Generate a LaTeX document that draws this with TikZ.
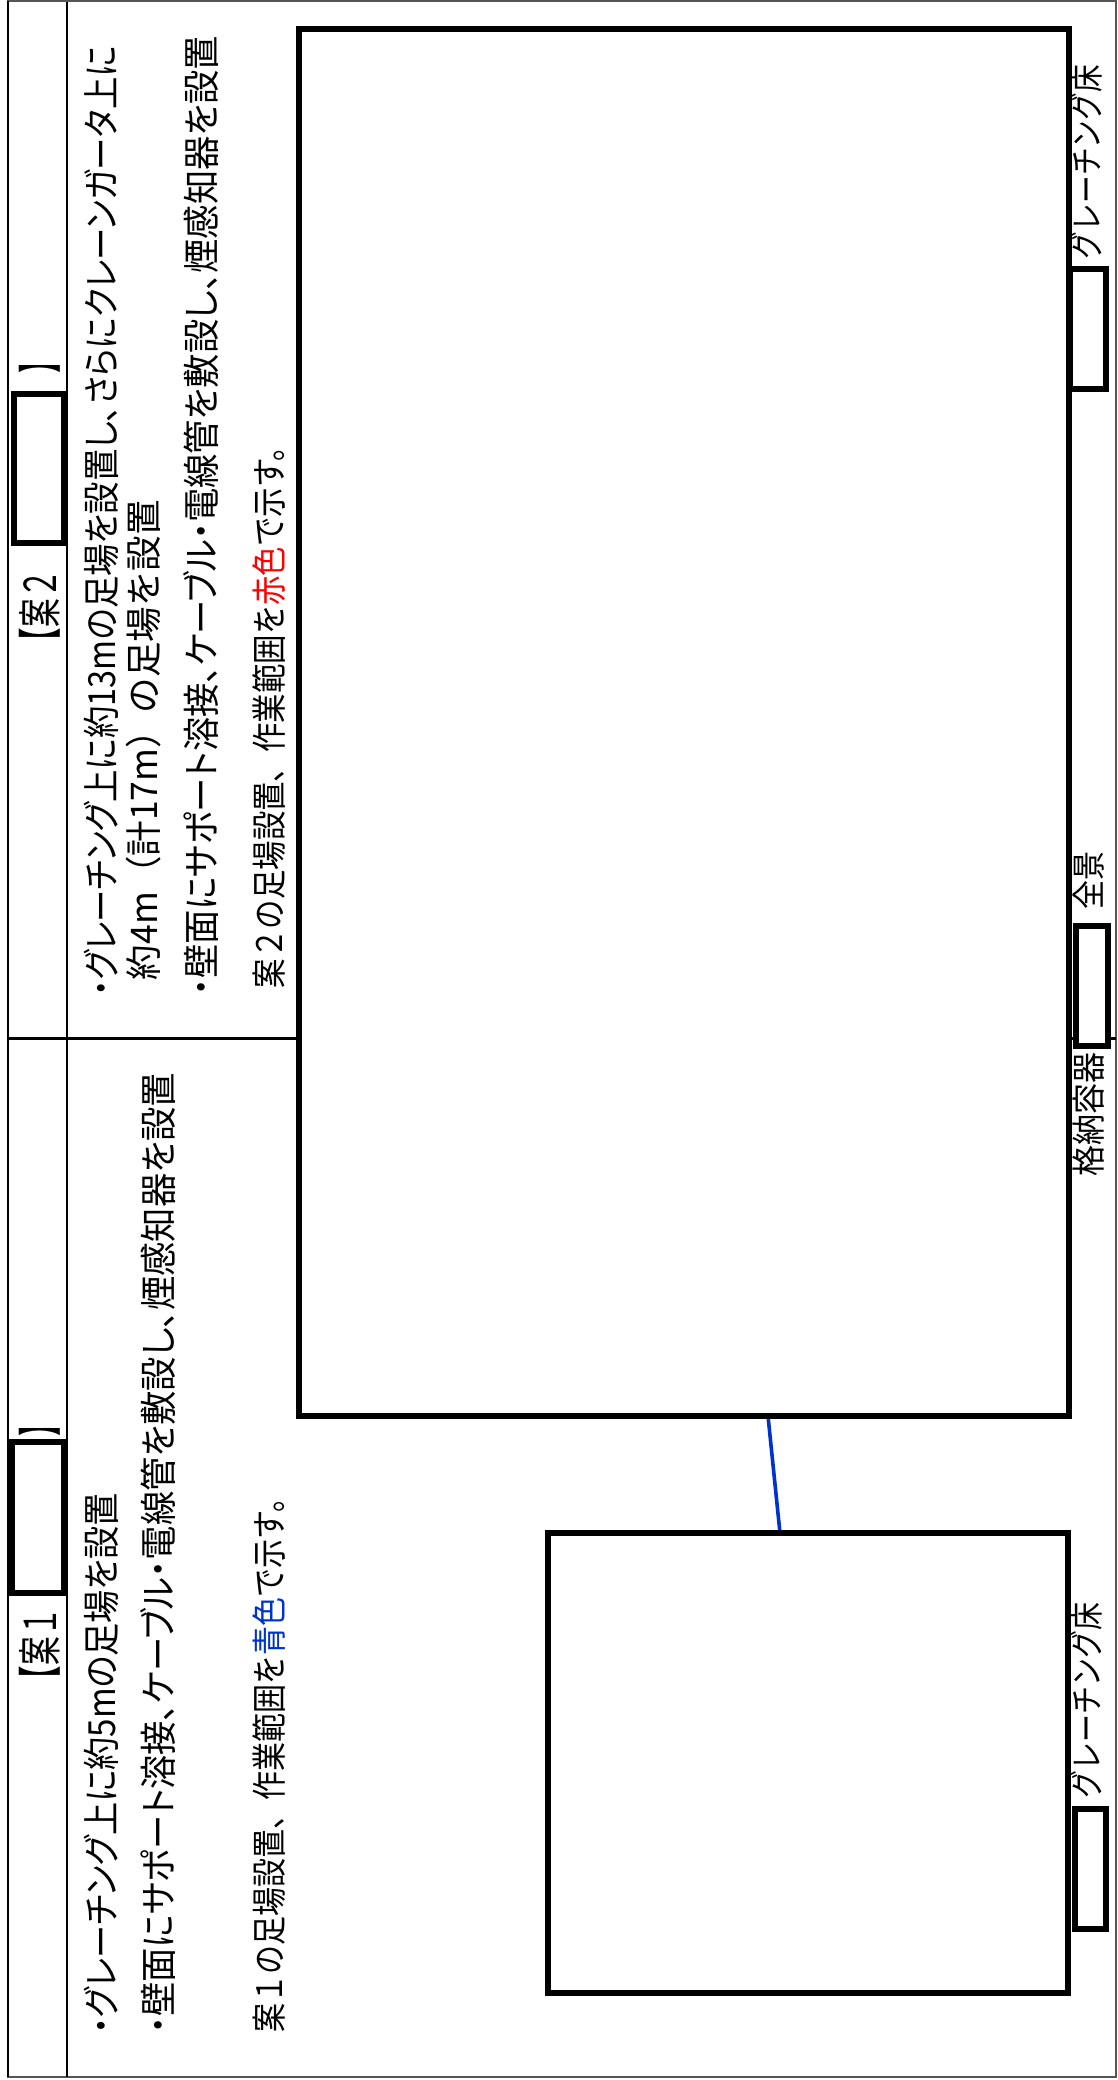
\documentclass[tikz,border=0pt]{standalone}
\usepackage{fontspec}
\setmainfont[RawFeature=+palt]{Noto Sans CJK JP}
\newfontfamily\fwfont{Noto Sans CJK JP}
\definecolor{planblue}{HTML}{0033CC}
\definecolor{framegray}{HTML}{555555}
\newsavebox{\fitbox}
\newdimen\fitheight
\newcommand{\fitlen}[2]{\sbox{\fitbox}{#2}\fitheight=\dimexpr\ht\fitbox+\dp\fitbox\relax\resizebox{#1}{\fitheight}{\usebox{\fitbox}}}
\tikzset{
  txt/.style={rotate=90,anchor=west,inner sep=0pt,outer sep=0pt},
  body/.style={txt,font=\fontsize{34}{36}\selectfont},
  note/.style={txt,font=\fwfont\fontsize{32}{36}\selectfont},
  head/.style={txt,font=\fwfont\fontsize{40}{42}\selectfont},
  tag/.style={txt,font=\fwfont\fontsize{31}{32}\selectfont},
  blank/.style={draw=black,fill=white,inner sep=0pt,rectangle,line width=#1},
  blank/.default=6pt,
  rule/.style={draw=black,line width=2.4pt},
  frame/.style={draw=framegray,line width=1.6pt},
  link/.style={draw=planblue,line width=3.6pt}
}
\begin{document}
\begin{tikzpicture}[x=1pt,y=-1pt]
\useasboundingbox (0,0) rectangle (1117,2080);
\fill[white] (0,0) rectangle (1117,2080);
% table
\coordinate (tl) at (8,1);
\coordinate (tr) at (1116,1);
\coordinate (bl) at (8,2077);
\coordinate (br) at (1116,2077);
\coordinate (cs) at (67,2);
\coordinate (ce) at (67,2077);
\coordinate (ds) at (8,1038);
\coordinate (de) at (1116,1038);
\draw[frame] (tl) -- (tr) -- (br) -- (bl) -- cycle;
\draw[rule] (tl) -- (bl);
\draw[rule] (cs) -- (ce);
\draw[rule,line width=3pt] (ds) -- (de);
% connector
\coordinate (la) at (768,1416);
\coordinate (lb) at (780,1533);
\draw[link] (la) -- (lb);
% boxes
\node[blank=6.4pt,minimum width=770.5pt,minimum height=1387pt] (big) at (684,722.5) {};
\node[blank=5.8pt,minimum width=520pt,minimum height=459.5pt] (small) at (808,1763) {};
\node[blank,minimum width=49.5pt,minimum height=149pt] (ph2) at (39,468.5) {};
\node[blank,minimum width=52pt,minimum height=151pt] (ph1) at (38,1517.5) {};
\node[blank,minimum width=36pt,minimum height=120pt] (r1) at (1088,329) {};
\node[blank,minimum width=32pt,minimum height=120pt] (r2) at (1092,986) {};
\node[blank,minimum width=31pt,minimum height=120pt] (r3) at (1090.5,1869) {};
% plan 2
\node[head] (h2) at (40,656) {\fitlen{86pt}{【案２}};
\node[head] (h2e) at (40,373) {\fitlen{24pt}{】}};
\node[body] (a2) at (101,996) {\fitlen{950pt}{・グレーチング上に約13mの足場を設置し、さらにクレーンガータ上に}};
\node[body,font=\fwfont\fontsize{33}{36}\selectfont] (b2) at (144,980) {\fitlen{480pt}{約4m（計17m）の足場を設置}};
\node[body] (c2) at (201,996) {\fitlen{960pt}{・壁面にサポート溶接、ケーブル・電線管を敷設し、煙感知器を設置}};
\node[note] (d2) at (269,988) {\fitlen{556pt}{案２の足場設置、作業範囲を\textcolor{red}{赤色}で示す。}};
% plan 1
\node[head] (h1) at (40,1694) {\fitlen{86pt}{【案１}};
\node[head] (h1e) at (40,1436) {\fitlen{24pt}{】}};
\node[body] (a1) at (101,2034) {\fitlen{541pt}{・グレーチング上に約5mの足場を設置}};
\node[body] (c1) at (158,2034) {\fitlen{961pt}{・壁面にサポート溶接、ケーブル・電線管を敷設し、煙感知器を設置}};
\node[note] (d1) at (269,2032) {\fitlen{548pt}{案１の足場設置、作業範囲を\textcolor{planblue}{青色}で示す。}};
% labels
\node[tag] (t1) at (1087,259) {\fitlen{194pt}{グレーチング床}};
\node[tag] (t2) at (1089,909) {\fitlen{58pt}{全景}};
\node[tag] (t3) at (1089,1176) {\fitlen{124pt}{格納容器}};
\node[tag] (t4) at (1087,1798) {\fitlen{196pt}{グレーチング床}};
\end{tikzpicture}
\end{document}
